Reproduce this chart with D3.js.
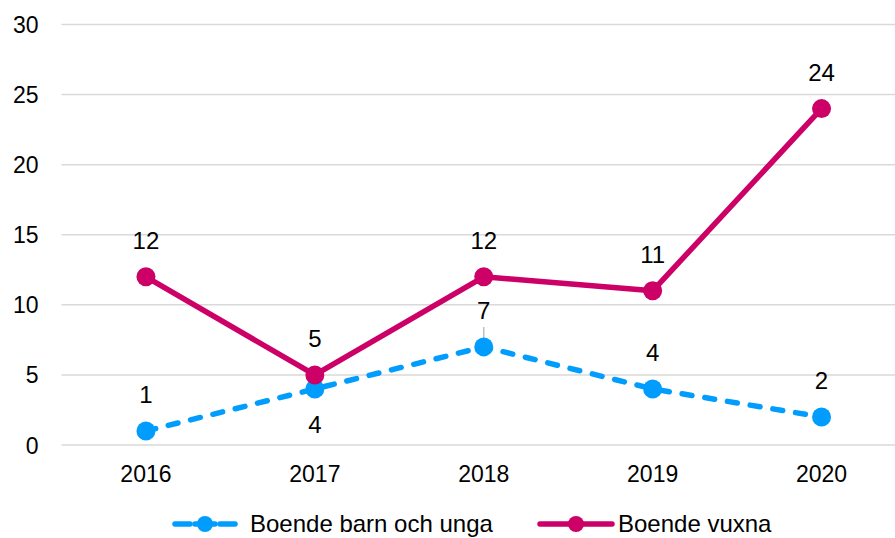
<!DOCTYPE html>
<html>
<head>
<meta charset="utf-8">
<script src="https://cdn.jsdelivr.net/npm/d3@7"></script>
<style>
  body { margin: 0; background: #fff; }
  svg text { font-family: "Liberation Sans", Arial, sans-serif; fill: #000; }
</style>
</head>
<body>
<svg id="chart" width="895" height="538"></svg>
<script>
const years = ['2016', '2017', '2018', '2019', '2020'];
const barnUnga = [1, 4, 7, 4, 2];
const vuxna = [12, 5, 12, 11, 24];
const yTicks = [0, 5, 10, 15, 20, 25, 30];
// label below the point for these indices
const barnBelow = [1];

const width = 895;
const height = 538;
const margin = { top: 24.5, right: -11, bottom: 93, left: 61.5 };

const svg = d3.select('#chart');

const x = d3.scaleBand()
  .domain(years)
  .range([margin.left, width - margin.right]);

const y = d3.scaleLinear()
  .domain([0, 30])
  .range([height - margin.bottom, margin.top]);

/* grid */
svg.append('g')
  .selectAll('line')
  .data(yTicks)
  .enter()
  .append('line')
  .attr('x1', margin.left)
  .attr('x2', width)
  .attr('y1', d => y(d))
  .attr('y2', d => y(d))
  .attr('stroke', '#d9d9d9')
  .attr('stroke-width', 1.5);

/* y axis labels */
const yAxis = svg.append('g')
  .attr('transform', `translate(${margin.left - 23},0)`)
  .call(d3.axisLeft(y).tickValues(yTicks).tickSize(0).tickPadding(0));
yAxis.select('.domain').remove();
yAxis.selectAll('text')
  .attr('font-size', 23)
  .attr('fill', '#000')
  .attr('dy', '0.35em')
  .style('font-family', '"Liberation Sans", Arial, sans-serif');

/* x axis labels */
const xAxis = svg.append('g')
  .attr('transform', `translate(0,${y(0) + 29})`)
  .call(d3.axisBottom(x).tickSize(0).tickPadding(0));
xAxis.select('.domain').remove();
xAxis.selectAll('text')
  .attr('font-size', 23)
  .attr('fill', '#000')
  .attr('dy', '0.35em')
  .style('font-family', '"Liberation Sans", Arial, sans-serif');

const cx = d => x(d) + x.bandwidth() / 2;

const series = [
  { name: 'Boende barn och unga', values: barnUnga, color: '#009dff', dash: '10 13', below: barnBelow },
  { name: 'Boende vuxna', values: vuxna, color: '#cc0066', dash: null, below: [] }
];

const line = d3.line()
  .x((d, i) => cx(years[i]))
  .y(d => y(d));

// leader line for barn 2018
svg.append('line')
  .attr('x1', cx('2018'))
  .attr('x2', cx('2018'))
  .attr('y1', y(barnUnga[2]) - 20)
  .attr('y2', y(barnUnga[2]) - 2)
  .attr('stroke', '#bfbfbf')
  .attr('stroke-width', 1.5);

series.forEach(s => {
  const g = svg.append('g');
  g.append('path')
    .datum(s.values)
    .attr('d', line)
    .attr('fill', 'none')
    .attr('stroke', s.color)
    .attr('stroke-width', 5.5)
    .attr('stroke-linecap', s.dash ? 'round' : 'butt')
    .attr('stroke-linejoin', 'round')
    .attr('stroke-dasharray', s.dash);

  g.selectAll('circle')
    .data(s.values)
    .enter()
    .append('circle')
    .attr('cx', (d, i) => cx(years[i]))
    .attr('cy', d => y(d))
    .attr('r', 9.5)
    .attr('fill', s.color);

  g.selectAll('text')
    .data(s.values)
    .enter()
    .append('text')
    .attr('x', (d, i) => cx(years[i]))
    .attr('y', (d, i) => s.below.includes(i) ? y(d) + 36 : y(d) - 36)
    .attr('dy', '0.35em')
    .attr('text-anchor', 'middle')
    .attr('font-size', 24)
    .text(d => d);
});

/* legend */
const legendItems = [
  { x0: 172, x1: 238, tx: 250 },
  { x0: 540, x1: 612, tx: 618 }
];
const legendY = 524;
series.forEach((s, i) => {
  const it = legendItems[i];
  const mid = (it.x0 + it.x1) / 2;
  const lg = svg.append('g');
  if (s.dash) {
    [[it.x0 + 3, mid - 15], [mid + 15, it.x1 - 3]].forEach(seg => {
      lg.append('line')
        .attr('x1', seg[0])
        .attr('x2', seg[1])
        .attr('y1', legendY)
        .attr('y2', legendY)
        .attr('stroke', s.color)
        .attr('stroke-width', 5.5)
        .attr('stroke-linecap', 'round');
    });
    lg.append('line')
      .attr('x1', mid - 10)
      .attr('x2', mid + 10)
      .attr('y1', legendY)
      .attr('y2', legendY)
      .attr('stroke', s.color)
      .attr('stroke-width', 5.5)
      .attr('stroke-linecap', 'round');
  } else {
    lg.append('line')
      .attr('x1', it.x0)
      .attr('x2', it.x1)
      .attr('y1', legendY)
      .attr('y2', legendY)
      .attr('stroke', s.color)
      .attr('stroke-width', 5.5)
      .attr('stroke-linecap', 'round');
  }
  lg.append('circle')
    .attr('cx', mid)
    .attr('cy', legendY)
    .attr('r', 8)
    .attr('fill', s.color);
  lg.append('text')
    .attr('x', it.tx)
    .attr('y', legendY)
    .attr('dy', '0.35em')
    .attr('font-size', 24)
    .text(s.name);
});
</script>
</body>
</html>
